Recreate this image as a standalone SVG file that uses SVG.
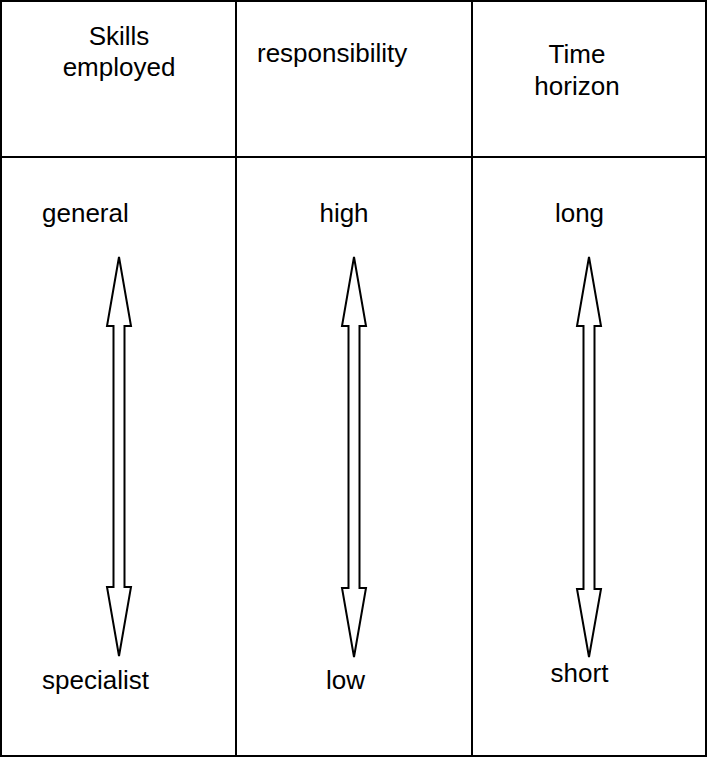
<svg xmlns="http://www.w3.org/2000/svg" width="707" height="757" viewBox="0 0 707 757">
<style>
.grid{fill:none;stroke:#000;stroke-width:2}
.arr{fill:#fff;stroke:#000;stroke-width:2;stroke-linejoin:miter}
text{font-family:"Liberation Sans",Arial,sans-serif;font-size:26px;fill:#000}
.c{text-anchor:middle}
</style>
<rect width="707" height="757" fill="#fff"/>
<g id="grid">
<rect class="grid" x="1" y="1" width="705" height="755"/>
<line class="grid" x1="236" y1="1" x2="236" y2="756"/>
<line class="grid" x1="472" y1="1" x2="472" y2="756"/>
<line class="grid" x1="1" y1="157" x2="706" y2="157"/>
</g>
<g id="col1">
<text class="c" x="119" y="45">Skills</text>
<text class="c" x="119" y="76">employed</text>
<text x="42" y="222">general</text>
<text x="42" y="689">specialist</text>
</g>
<g id="col2">
<text x="257" y="62">responsibility</text>
<text class="c" x="344" y="222">high</text>
<text class="c" x="345.5" y="689">low</text>
</g>
<g id="col3">
<text class="c" x="577" y="63">Time</text>
<text class="c" x="577" y="95">horizon</text>
<text class="c" x="579.5" y="222">long</text>
<text class="c" x="579.5" y="682">short</text>
</g>
<g id="connectors">
<polygon class="arr" points="119,257 131,326 124.5,326 124.5,587 131,587 119,656 107,587 113.5,587 113.5,326 107,326"/>
<polygon class="arr" points="354,257 366,326 359.5,326 359.5,588 366,588 354,657 342,588 348.5,588 348.5,326 342,326"/>
<polygon class="arr" points="589,257 601,326 594.5,326 594.5,589 601,589 589,657 577,589 583.5,589 583.5,326 577,326"/>
</g>
</svg>
